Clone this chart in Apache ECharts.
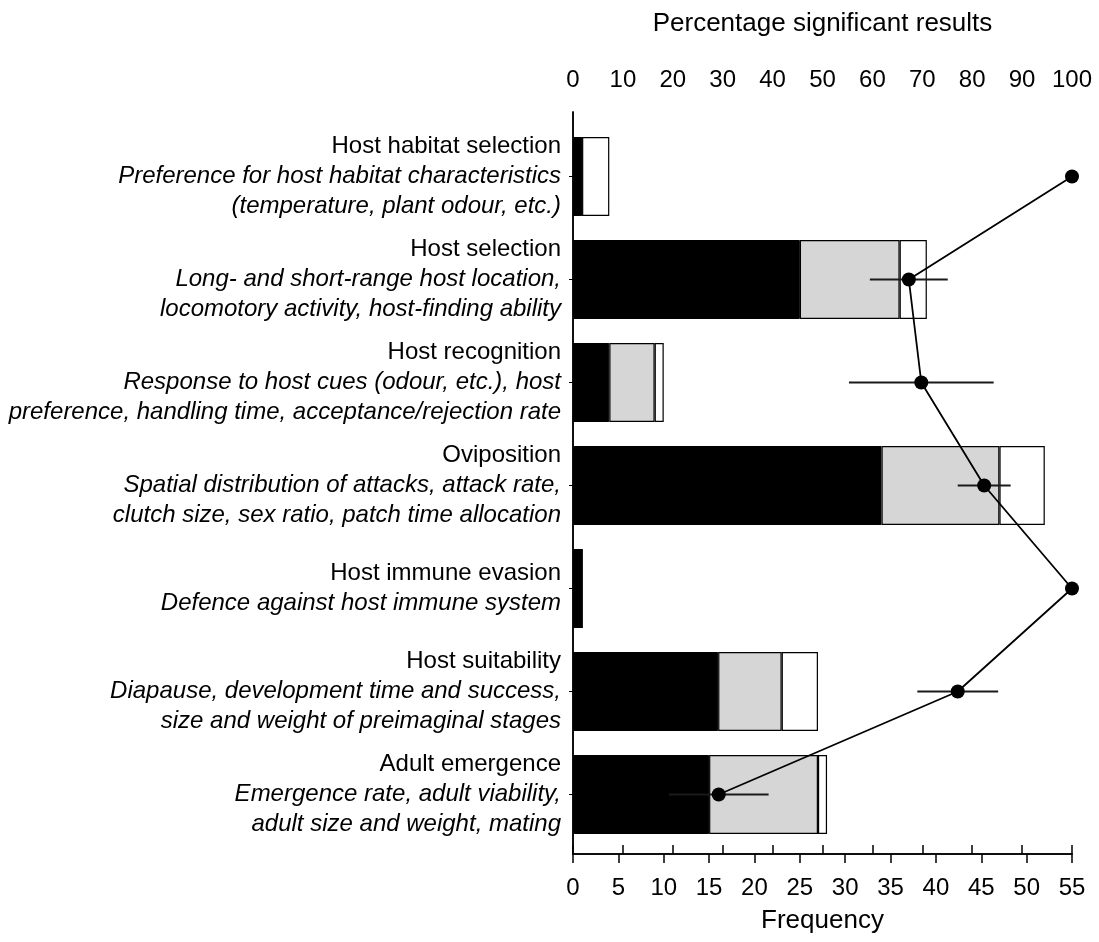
<!DOCTYPE html>
<html>
<head>
<meta charset="utf-8">
<script src="https://cdn.jsdelivr.net/npm/echarts@6/dist/echarts.min.js"></script>
<style>
html,body{margin:0;padding:0;background:#fff;}
#chart{width:1099px;height:942px;}
</style>
</head>
<body>
<div id="chart"></div>
<script>
// ---- data ----
const categories = ['Host habitat selection','Host selection','Host recognition','Oviposition','Host immune evasion','Host suitability','Adult emergence'];
const descLine1 = ['Preference for host habitat characteristics','Long- and short-range host location,','Response to host cues (odour, etc.), host','Spatial distribution of attacks, attack rate,','Defence against host immune system','Diapause, development time and success,','Emergence rate, adult viability,'];
const descLine2 = ['(temperature, plant odour, etc.)','locomotory activity, host-finding ability','preference, handling time, acceptance/rejection rate','clutch size, sex ratio, patch time allocation','','size and weight of preimaginal stages','adult size and weight, mating'];
const countBlack = [1, 25, 4, 34, 1, 16, 15];
const countGrey  = [0, 11, 5, 13, 0, 7, 12];
const countWhite = [3, 3, 1, 5, 0, 4, 1];
const pctSignificant = [100, 67.3, 69.8, 82.4, 100, 77.1, 29.2];
const pctError = [0, 7.8, 14.5, 5.3, 0, 8.1, 10];
const freqTicks = {min: 0, max: 55, interval: 5};
const pctTicks = {min: 0, max: 100, interval: 10};

const FONT = 'Liberation Sans, Arial, Helvetica, sans-serif';
const chart = echarts.init(document.getElementById('chart'), null, {renderer: 'canvas'});

const errData = pctSignificant.map((p, i) => [i, p - pctError[i], p + pctError[i]]).filter((d, i) => pctError[i] > 0);

const labelMap = {};
categories.forEach((c, i) => {
  let s = '{a|' + c + '}\n{b|' + descLine1[i] + '}';
  if (descLine2[i]) s += '\n{b|' + descLine2[i] + '}';
  labelMap[c] = s;
});

const option = {
  animation: false,
  backgroundColor: '#fff',
  textStyle: {fontFamily: FONT, color: '#000'},
  grid: [
    {left: 573, right: 27, top: 125, bottom: 96},
    {left: 573, right: 27, top: 112, bottom: 88}
  ],
  xAxis: [
    {gridIndex: 0, type: 'value', position: 'bottom', min: freqTicks.min, max: freqTicks.max, show: false},
    {gridIndex: 0, type: 'value', position: 'top', min: pctTicks.min, max: pctTicks.max, show: false},
    {gridIndex: 1, type: 'value', position: 'bottom', min: freqTicks.min, max: freqTicks.max, interval: freqTicks.interval,
      axisLine: {show: true, lineStyle: {color: '#000', width: 1.5}},
      axisTick: {show: true, inside: false, length: 9, lineStyle: {color: '#000', width: 1.5}},
      axisLabel: {color: '#000', fontSize: 24, fontFamily: FONT, margin: 22},
      splitLine: {show: false},
      name: 'Frequency', nameLocation: 'middle', nameGap: 54,
      nameTextStyle: {color: '#000', fontSize: 26, fontFamily: FONT}
    },
    {gridIndex: 1, type: 'value', position: 'top', min: pctTicks.min, max: pctTicks.max, interval: pctTicks.interval,
      axisLine: {show: true, lineStyle: {color: '#000', width: 1.5}},
      axisTick: {show: true, inside: false, length: 9, lineStyle: {color: '#000', width: 1.5}},
      axisLabel: {color: '#000', fontSize: 24, fontFamily: FONT, margin: 20},
      splitLine: {show: false},
      name: 'Percentage significant results', nameLocation: 'middle', nameGap: 75,
      nameTextStyle: {color: '#000', fontSize: 26, fontFamily: FONT}
    }
  ],
  yAxis: [
    {gridIndex: 0, type: 'category', inverse: true, data: categories,
      axisLine: {show: false},
      axisTick: {show: true, alignWithLabel: true, length: 4, lineStyle: {color: '#000'}},
      axisLabel: {
        margin: 12, align: 'right',
        formatter: v => labelMap[v],
        rich: {
          a: {fontSize: 24, lineHeight: 30, color: '#000', fontFamily: FONT, align: 'right'},
          b: {fontSize: 24, lineHeight: 30, color: '#000', fontFamily: FONT, fontStyle: 'italic', align: 'right'}
        }
      },
      splitLine: {show: false}
    },
    {gridIndex: 1, type: 'value', position: 'left',
      axisLine: {show: true, lineStyle: {color: '#000', width: 1.5}},
      axisTick: {show: false}, axisLabel: {show: false}, splitLine: {show: false}},
    {gridIndex: 1, type: 'value', position: 'right',
      axisLine: {show: true, lineStyle: {color: '#000', width: 1.5}},
      axisTick: {show: false}, axisLabel: {show: false}, splitLine: {show: false}}
  ],
  series: [
    {type: 'bar', name: 'black', xAxisIndex: 0, yAxisIndex: 0, stack: 'f', barWidth: 79, data: countBlack,
      itemStyle: {color: '#000', borderColor: '#000', borderWidth: 1}},
    {type: 'bar', name: 'grey', xAxisIndex: 0, yAxisIndex: 0, stack: 'f', barWidth: 79, data: countGrey,
      itemStyle: {color: '#d6d6d6', borderColor: '#000', borderWidth: 1.2}},
    {type: 'bar', name: 'white', xAxisIndex: 0, yAxisIndex: 0, stack: 'f', barWidth: 79, data: countWhite,
      itemStyle: {color: '#fff', borderColor: '#000', borderWidth: 1.2}},
    {type: 'custom', name: 'error', xAxisIndex: 1, yAxisIndex: 0, z: 4,
      data: errData,
      encode: {x: [1, 2], y: 0},
      renderItem: function (params, api) {
        const c = api.value(0);
        const p1 = api.coord([api.value(1), c]);
        const p2 = api.coord([api.value(2), c]);
        return {type: 'line', shape: {x1: p1[0], y1: p1[1], x2: p2[0], y2: p2[1]},
          style: {stroke: '#1a1a1a', lineWidth: 2}};
      }
    },
    {type: 'line', name: 'pct', xAxisIndex: 1, yAxisIndex: 0, z: 5,
      data: pctSignificant.map((p, i) => [p, categories[i]]),
      symbol: 'circle', symbolSize: 14,
      lineStyle: {color: '#000', width: 1.8},
      itemStyle: {color: '#000'}
    }
  ]
};
chart.setOption(option);
</script>
</body>
</html>
